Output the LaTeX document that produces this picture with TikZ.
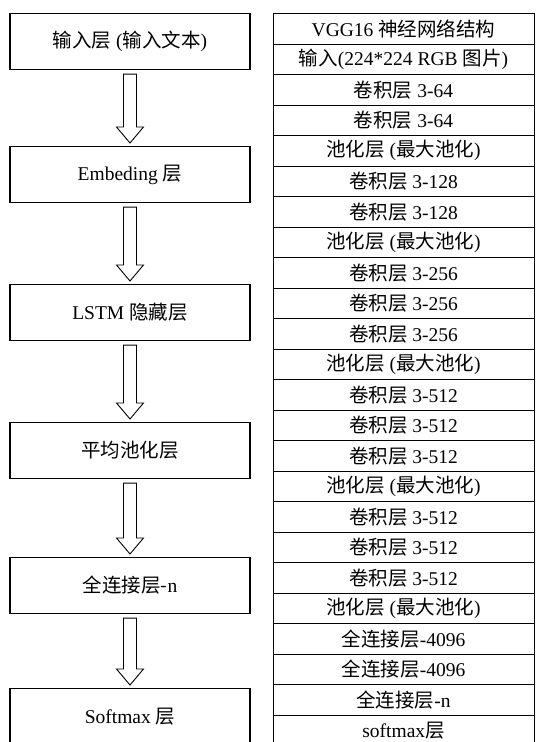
\documentclass[tikz,border=0pt]{standalone}
\usepackage{fontspec}
\setmainfont{Liberation Serif}
\newfontfamily\cjk{Noto Sans CJK SC}
\newcommand\zh[1]{{\cjk #1}}
\begin{document}
\begin{tikzpicture}[x=1pt,y=-1pt,
  font=\fontsize{19.5}{22}\selectfont,
  lbox/.style={draw, line width=1.1pt, minimum width=240pt, minimum height=56pt, inner sep=0pt, anchor=north},
  trow/.style={draw, line width=0.9pt, minimum width=261pt, minimum height=30.5pt, inner sep=0pt, anchor=north},
  barrow/.style={draw, line width=0.9pt, fill=white, line join=miter}]
\clip (0,0) rectangle (536,742);
\fill[white] (0,0) rectangle (536,742);
% left column
\node[lbox] (b1) at (130,13)  {\zh{输入层} (\zh{输入文本})};
\node[lbox] (b2) at (130,146) {Embeding \zh{层}};
\node[lbox] (b3) at (130,284) {LSTM \zh{隐藏层}};
\node[lbox] (b4) at (130,422) {\zh{平均池化层}};
\node[lbox] (b5) at (130,557) {\zh{全连接层-}n};
\node[lbox] (b6) at (130,688) {Softmax \zh{层}};
\foreach \a/\b in {b1/b2,b2/b3,b3/b4,b4/b5,b5/b6}{
  \draw[barrow] ([shift={(-6.5pt,-4pt)}]\a.south) -- ([shift={(-6.5pt,19pt)}]\b.north)
    -- ([shift={(-13.5pt,19pt)}]\b.north) -- ([shift={(0pt,3pt)}]\b.north)
    -- ([shift={(13.5pt,19pt)}]\b.north) -- ([shift={(6.5pt,19pt)}]\b.north)
    -- ([shift={(6.5pt,-4pt)}]\a.south) -- cycle;
}
% right table
\foreach \t [count=\i from 0] in {
  {VGG16 \zh{神经网络结构}},
  {\zh{输入}(224*224 RGB \zh{图片})},
  {\zh{卷积层} 3-64},
  {\zh{卷积层} 3-64},
  {\zh{池化层} (\zh{最大池化})},
  {\zh{卷积层} 3-128},
  {\zh{卷积层} 3-128},
  {\zh{池化层} (\zh{最大池化})},
  {\zh{卷积层} 3-256},
  {\zh{卷积层} 3-256},
  {\zh{卷积层} 3-256},
  {\zh{池化层} (\zh{最大池化})},
  {\zh{卷积层} 3-512},
  {\zh{卷积层} 3-512},
  {\zh{卷积层} 3-512},
  {\zh{池化层} (\zh{最大池化})},
  {\zh{卷积层} 3-512},
  {\zh{卷积层} 3-512},
  {\zh{卷积层} 3-512},
  {\zh{池化层} (\zh{最大池化})},
  {\zh{全连接层}-4096},
  {\zh{全连接层}-4096},
  {\zh{全连接层}-n},
  {softmax\zh{层}}}{
  \node[trow] (r\i) at (403.5,13+\i*30.5) {\t};
}
\end{tikzpicture}
\end{document}
